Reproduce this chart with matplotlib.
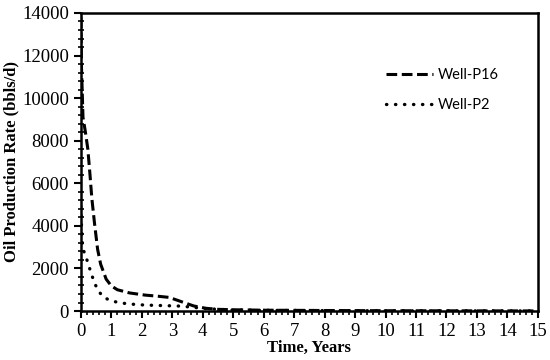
import matplotlib
matplotlib.use("Agg")
import matplotlib.pyplot as plt
from matplotlib.ticker import MultipleLocator

# Well-P16 (dashed)
t_p16 = [0, 0.02, 0.07, 0.15, 0.23, 0.3, 0.36, 0.45, 0.55, 0.65, 0.83, 1.0, 1.2,
         1.6, 2.1, 2.5, 2.9, 3.3, 3.7, 4.1, 4.5, 5, 6, 8, 10, 15]
q_p16 = [13800, 11500, 9100, 8400, 7600, 6400, 5300, 4100, 2900, 2200, 1500, 1180, 1000,
         850, 750, 700, 640, 440, 240, 130, 80, 60, 40, 25, 15, 5]

# Well-P2 (dotted)
t_p2 = [0, 0.02, 0.05, 0.1, 0.2, 0.3, 0.45, 0.6, 0.75, 1.0, 1.3, 1.7, 2.1,
        2.6, 3.2, 3.6, 4.0, 4.5, 5, 6, 8, 10, 15]
q_p2 = [4900, 4000, 3200, 2800, 2400, 1950, 1300, 900, 640, 480, 380, 320, 280,
        260, 235, 190, 125, 80, 50, 35, 20, 12, 5]

serif = "Liberation Serif"

fig = plt.figure(figsize=(5.5, 3.6), dpi=100)
ax = fig.add_axes([0.147, 0.136, 0.831, 0.828])

ax.plot(t_p16, q_p16, color="black", lw=2.2, linestyle=(0, (3.5, 1.5)), label="Well-P16")
ax.plot(t_p2, q_p2, color="black", lw=2.4, linestyle=(0, (0.1, 2.6)),
        dash_capstyle="round", label="Well-P2")

ax.set_xlim(0, 15)
ax.set_ylim(0, 14000)
ax.xaxis.set_major_locator(MultipleLocator(1))
ax.xaxis.set_minor_locator(MultipleLocator(0.2))
ax.yaxis.set_major_locator(MultipleLocator(2000))
ax.yaxis.set_minor_locator(MultipleLocator(400))

ax.tick_params(axis="x", which="major", direction="out", length=5, width=1.5)
ax.tick_params(axis="x", which="minor", direction="out", length=3, width=1.2)
ax.tick_params(axis="y", which="major", direction="out", length=5, width=1.5)
ax.tick_params(axis="y", which="minor", direction="inout", length=5, width=1.2)
ax.tick_params(labelsize=13.5)
for lbl in ax.get_xticklabels() + ax.get_yticklabels():
    lbl.set_fontfamily(serif)

for s in ax.spines.values():
    s.set_linewidth(1.8)

ax.set_xlabel("Time, Years", fontfamily=serif, fontweight="bold", fontsize=12, labelpad=0)
ax.set_ylabel("Oil Production Rate (bbls/d)", fontfamily=serif, fontweight="bold",
              fontsize=12, labelpad=2)

ax.legend(loc="upper left", bbox_to_anchor=(0.64, 0.86), frameon=False,
          prop={"family": "Lato", "size": 10.5}, handlelength=3.2, handletextpad=0.3,
          labelspacing=1.1)

fig.savefig("out.png", dpi=100)
